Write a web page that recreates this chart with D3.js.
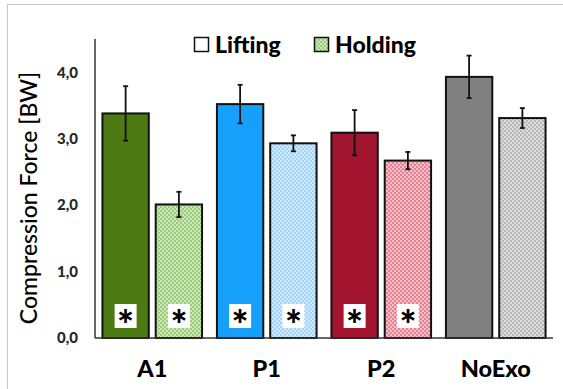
<!DOCTYPE html>
<html>
<head>
<meta charset="utf-8">
<script src="https://cdn.jsdelivr.net/npm/d3@7"></script>
<style>
  body { margin: 0; background: #fff; }
  svg text { font-family: Lato, "Open Sans", sans-serif; }
</style>
</head>
<body>
<div id="graphHolder"></div>
<script>
'use strict'
// data
var categories = ["A1", "P1", "P2", "NoExo"];
var seriesNames = ["Lifting", "Holding"];
var liftingMean = [3.38, 3.52, 3.09, 3.93];
var liftingErr = [0.41, 0.29, 0.34, 0.32];
var holdingMean = [2.01, 2.93, 2.67, 3.31];
var holdingErr = [0.19, 0.12, 0.13, 0.15];
var significant = [true, true, true, false];
var yTicks = [0, 1, 2, 3, 4];

var solidColors = ["#4e7a14", "#16a0fb", "#a3142f", "#808080"];
var patternColors = ["#9acd78", "#a3d5fa", "#e4808f", "#b8b8b8"];

var width = 563, height = 389;
var svg = d3.select("#graphHolder").append("svg")
        .attr("width", width)
        .attr("height", height);

// frame
svg.append("rect")
        .attr("x", 7.5).attr("y", 4.5)
        .attr("width", width).attr("height", height)
        .attr("fill", "none")
        .attr("stroke", "#c8c8c8");

var defs = svg.append("defs");
patternColors.forEach(function (c, i) {
    var p = defs.append("pattern")
            .attr("id", "hatch" + i)
            .attr("patternUnits", "userSpaceOnUse")
            .attr("width", 4).attr("height", 4);
    p.append("rect").attr("width", 4).attr("height", 4).attr("fill", c);
    p.append("rect").attr("x", 0).attr("y", 0).attr("width", 2).attr("height", 2)
            .attr("fill", "#fff").attr("opacity", 0.5);
    p.append("rect").attr("x", 2).attr("y", 2).attr("width", 2).attr("height", 2)
            .attr("fill", "#fff").attr("opacity", 0.5);
});

var x0 = d3.scaleBand().domain(categories).range([95, 553])
        .paddingInner(0.13).paddingOuter(0.065);
var x1 = d3.scaleBand().domain(seriesNames).range([0, x0.bandwidth()])
        .paddingInner(0.13);
var y = d3.scaleLinear().domain([0, 4.5]).range([338, 39]);

// tick labels
var yAxis = d3.axisLeft(y).tickValues(yTicks).tickSize(0).tickPadding(0)
        .tickFormat(function (d) { return d3.format(".1f")(d).replace(".", ","); });
var yG = svg.append("g")
        .attr("transform", "translate(78,0)")
        .call(yAxis);
yG.select(".domain").remove();
yG.selectAll("text")
        .attr("font-size", 15)
        .attr("font-weight", 900)
        .attr("fill", "#262626")
        .style("font-family", "Lato, sans-serif");

svg.append("text")
        .attr("transform", "translate(37,198) rotate(-90)")
        .attr("text-anchor", "middle")
        .attr("font-size", 23)
        .attr("font-weight", 500)
        .attr("fill", "#000")
        .text("Compression Force [BW]");

var rows = categories.map(function (c, i) {
    return [
        {cat: c, i: i, s: "Lifting", v: liftingMean[i], e: liftingErr[i], fill: solidColors[i]},
        {cat: c, i: i, s: "Holding", v: holdingMean[i], e: holdingErr[i], fill: "url(#hatch" + i + ")"}
    ];
});
var bars = d3.merge(rows);

var barG = svg.append("g");
barG.selectAll("rect.bar")
        .data(bars)
        .enter()
        .append("rect")
        .attr("class", "bar")
        .attr("x", function (d) { return x0(d.cat) + x1(d.s); })
        .attr("y", function (d) { return y(d.v); })
        .attr("width", x1.bandwidth())
        .attr("height", function (d) { return y(0) - y(d.v); })
        .attr("fill", function (d) { return d.fill; })
        .attr("stroke", "#111")
        .attr("stroke-width", 2);

// significance boxes
var sig = bars.filter(function (d) { return significant[d.i]; });
barG.selectAll("rect.sig")
        .data(sig)
        .enter()
        .append("rect")
        .attr("class", "sig")
        .attr("x", function (d) { return x0(d.cat) + x1(d.s) + x1.bandwidth() / 2 - 11; })
        .attr("y", 304)
        .attr("width", 22)
        .attr("height", 24)
        .attr("fill", "#fff");
barG.selectAll("text.sig")
        .data(sig)
        .enter()
        .append("text")
        .attr("class", "sig")
        .attr("x", function (d) { return x0(d.cat) + x1(d.s) + x1.bandwidth() / 2; })
        .attr("y", 340)
        .attr("text-anchor", "middle")
        .attr("font-size", 40)
        .attr("font-weight", 900)
        .text("*");

// error bars
var errG = svg.append("g")
        .attr("stroke", "#111")
        .attr("stroke-width", 1.8);
bars.forEach(function (d) {
    var cx = x0(d.cat) + x1(d.s) + x1.bandwidth() / 2;
    errG.append("line")
            .attr("x1", cx).attr("x2", cx)
            .attr("y1", y(d.v + d.e)).attr("y2", y(d.v - d.e));
    [d.v + d.e, d.v - d.e].forEach(function (v) {
        errG.append("line")
                .attr("x1", cx - 2.5).attr("x2", cx + 2.5)
                .attr("y1", y(v)).attr("y2", y(v));
    });
});

// axis lines
svg.append("line")
        .attr("x1", 95).attr("x2", 95)
        .attr("y1", y(4.5)).attr("y2", y(0))
        .attr("stroke", "#333").attr("stroke-width", 1.5);
svg.append("line")
        .attr("x1", 95).attr("x2", 553)
        .attr("y1", y(0)).attr("y2", y(0))
        .attr("stroke", "#333").attr("stroke-width", 1.5);

// category labels
var xAxis = d3.axisBottom(x0).tickSize(0).tickPadding(0);
var xG = svg.append("g")
        .attr("transform", "translate(0,360)")
        .call(xAxis);
xG.select(".domain").remove();
xG.selectAll("text")
        .attr("font-size", 23.5)
        .attr("font-weight", 900)
        .attr("fill", "#000")
        .style("font-family", "Lato, sans-serif");

// legend
var legend = svg.append("g");
var legendX = [194, 314];
seriesNames.forEach(function (s, i) {
    var g = legend.append("g").attr("transform", "translate(" + legendX[i] + ",37)");
    g.append("rect")
            .attr("x", 0.5).attr("y", 0.5)
            .attr("width", 14).attr("height", 14)
            .attr("fill", i === 0 ? "#fff" : "url(#hatch0)")
            .attr("stroke", "#111")
            .attr("stroke-width", 1.5);
    g.append("text")
            .attr("x", 21)
            .attr("y", 16)
            .attr("font-size", 23)
            .attr("font-weight", 900)
            .text(s);
});
</script>
</body>
</html>
